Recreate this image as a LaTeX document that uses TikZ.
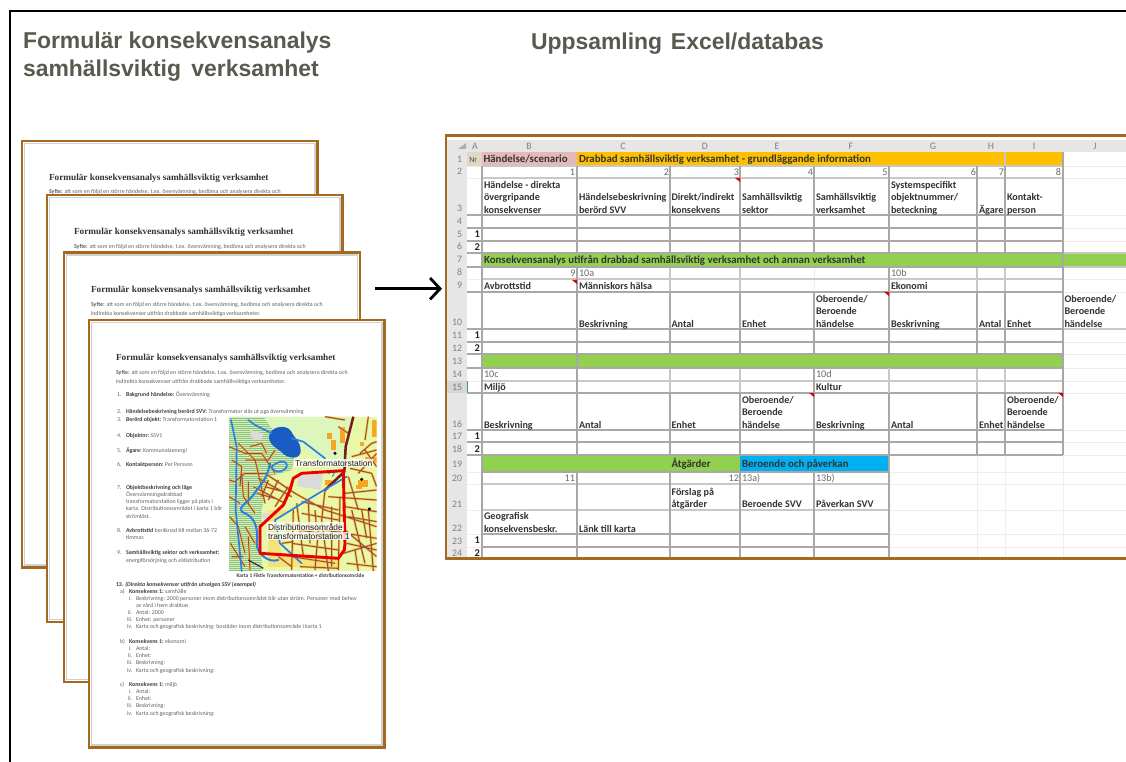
\documentclass[tikz,border=0pt]{standalone}
\usepackage{fontspec}
\setmainfont{Carlito}
\newfontfamily\arialf{Liberation Sans}
\newfontfamily\serifb{Liberation Serif}
\usetikzlibrary{arrows.meta}
\definecolor{brownb}{HTML}{A5681F}
\definecolor{titleg}{HTML}{595950}
\definecolor{hdr}{HTML}{E6E6E6}
\definecolor{grn}{HTML}{92D050}
\definecolor{org}{HTML}{FFC000}
\definecolor{blu}{HTML}{00B0F0}
\definecolor{pnk}{HTML}{E6B8B7}
\definecolor{tanc}{HTML}{DDD9C4}
\definecolor{gridd}{HTML}{A8A8A8}
\definecolor{gridm}{HTML}{C8C8C8}
\definecolor{gridl}{HTML}{EEEEEE}
\definecolor{road}{HTML}{9A4A48}
\definecolor{roady}{HTML}{F4C83A}
\definecolor{rivb}{HTML}{2A80E0}
\definecolor{mapbg}{HTML}{E9F7A8}
\definecolor{mapgr}{HTML}{DCF6BC}
\definecolor{forest}{HTML}{D6ECC2}
\definecolor{foreststr}{HTML}{8CC47A}
\definecolor{mapyl}{HTML}{F4E27A}
\definecolor{mapgrey}{HTML}{DADADA}
\definecolor{maporg}{HTML}{F5A623}
\definecolor{lake}{HTML}{1A5CC4}
\definecolor{mainroad}{HTML}{7A1A1A}
\definecolor{selmark}{HTML}{4C9A6A}
\newcounter{tn}
\tikzset{
  x=0.75pt,y=-0.75pt,
  txt/.style={inner sep=0pt,outer sep=0pt,anchor=base west},
  titletxt/.style={txt,font=\arialf\bfseries\fontsize{17.2pt}{18pt}\selectfont,text=titleg},
  cellh/.style={txt,font=\bfseries\fontsize{8.15pt}{9pt}\selectfont,text=black!80},
  cellb/.style={txt,font=\bfseries\fontsize{7.6pt}{9pt}\selectfont,text=black!80},
  cellg/.style={txt,font=\fontsize{7.6pt}{9pt}\selectfont,text=black!58},
  cellr/.style={inner sep=0pt,outer sep=0pt,anchor=base east,font=\fontsize{7.6pt}{9pt}\selectfont,text=black!58},
  numb/.style={inner sep=0pt,outer sep=0pt,anchor=base east,font=\bfseries\fontsize{7.8pt}{9pt}\selectfont,text=black!85},
  rowh/.style={inner sep=0pt,outer sep=0pt,anchor=base,font=\fontsize{7.4pt}{9pt}\selectfont,text=black!50},
  pagebox/.style={draw=brownb,line width=2.2pt,fill=white},
  pageshade/.style={draw=black!18,line width=0.8pt},
  ptitle/.style={txt,font=\serifb\bfseries\fontsize{6.95pt}{9pt}\selectfont,text=black!80},
  small/.style={txt,font=\fontsize{4.42pt}{5pt}\selectfont,text=black!62},
  smallb/.style={txt,font=\bfseries\fontsize{4.42pt}{5pt}\selectfont,text=black!75},
  capb/.style={txt,font=\bfseries\fontsize{4.02pt}{5pt}\selectfont,text=black!75},
  gd/.style={draw=gridd,line width=1.1pt},
  gm/.style={draw=gridm,line width=0.9pt},
  gl/.style={draw=gridl,line width=0.7pt},
  riv/.style={draw=rivb,line width=1.25pt,line join=round,line cap=round},
  redl/.style={draw=red!92!black,line width=2.2pt,line join=round},
  maplab/.style={inner sep=0.6pt,outer sep=0pt,anchor=base west,fill=white,fill opacity=0.8,text opacity=1,font=\arialf\fontsize{6.3pt}{8pt}\selectfont,text=black!88},
  commentmark/.style={fill=red!90!black,draw=none},
  arrowline/.style={draw=black,line width=2.1pt,-{Straight Barb[length=7.5pt,width=16pt,line width=2.1pt]}},
}
\newcommand{\tx}[4]{\stepcounter{tn}\node[#1] (n\arabic{tn}) at (#2,#3) {#4};}
\newcommand{\lbl}[5]{\stepcounter{tn}\node[smallb] (n\arabic{tn}) at (#2,#3) {#4};\node[small] (m\arabic{tn}) at (n\arabic{tn}.base east) {\ #5};}
\newcommand{\cmk}[2]{\fill[commentmark] (#1,#2) -- ++(-5,0) -- ++(5,4) -- cycle;}
\newcommand{\syfteA}{\textbf{Syfte:} att som en följd en större händelse, t.ex. översvämning, bedöma och analysera direkta och}
\newcommand{\syfteB}{indirekta konsekvenser utifrån drabbade samhällsviktiga verksamheter.}
\newcommand{\ptl}{Formulär konsekvensanalys samhällsviktig verksamhet}
\newcommand{\roadset}[1]{\draw[#1,line join=round]
 (12,210)--(30,215)--(60,190)--(120,190)--(210,250)--(300,300)--(455,350)
 (40,100)--(90,150)--(100,190)--(120,280)
 (12,110)--(60,130)--(110,130)--(150,190)
 (50,190)--(55,260)--(90,310)
 (130,210)--(110,260) (160,210)--(130,270) (190,230)--(150,290) (85,230)--(180,280) (100,205)--(200,260)
 (300,240)--(290,330)--(310,483) (345,260)--(340,480) (250,270)--(255,400) (205,300)--(200,480)
 (180,340)--(455,385) (200,400)--(340,420) (200,440)--(330,460) (280,360)--(270,480)
 (360,250)--(455,240) (380,300)--(420,460) (400,190)--(455,130) (420,120)--(455,170)
 (360,360)--(455,440) (355,430)--(455,400) (390,420)--(400,483) (430,300)--(445,483)
 (14,320)--(40,350)--(60,430) (60,350)--(90,400) (12,260)--(45,280)
 (310,260)--(455,270) (370,200)--(400,300)
 (60,150)--(130,150)--(150,120) (75,110)--(110,100)--(125,130) (20,150)--(50,170)--(45,230)
 (70,215)--(70,285) (95,250)--(150,265) (120,230)--(175,245)
 (215,280)--(235,440) (230,275)--(340,300) (230,310)--(340,330) (225,360)--(340,380) (320,290)--(320,470)
 (270,300)--(275,360) (225,470)--(340,475) (170,400)--(205,395) (160,440)--(200,470)
 (360,290)--(455,305) (370,320)--(455,335) (365,400)--(455,420) (365,460)--(455,470) (410,300)--(425,385)
 (405,130)--(440,100)--(455,95) (430,20)--(420,90) (380,140)--(455,120) (375,175)--(440,190) (440,190)--(455,230)
 (360,30)--(300,20) (370,70)--(340,50)
 (16,400)--(60,470) (20,440)--(55,440) (70,380)--(75,480);}
\begin{document}
\begin{tikzpicture}
\useasboundingbox (0,0) rectangle (1126,762);
\fill[white] (0,0) rectangle (1126,762);
% outer frame
\draw[black,line width=1.6pt] (10,762) -- (10,11) -- (1126,11);
% titles
\tx{titletxt}{23}{48.3}{Formulär konsekvensanalys}
\tx{titletxt}{23}{77}{samhällsviktig\hspace{0.45em}verksamhet}
\tx{titletxt}{531}{50}{Uppsamling\hspace{0.38em}Excel/databas}

% ---- page 1
\draw[pagebox] (22,141) rectangle (317.5,567.5);
\draw[pageshade] (24.5,143.5) rectangle (315,565);
\tx{ptitle}{49}{181}{\ptl}
\tx{small}{49}{194}{\syfteA}
% ---- page 2
\draw[pagebox] (47,195) rectangle (342.5,622);
\draw[pageshade] (49.5,197.5) rectangle (340,619.5);
\tx{ptitle}{74}{235}{\ptl}
\tx{small}{74}{249}{\syfteA}
% ---- page 3
\draw[pagebox] (64,252.5) rectangle (360,682);
\draw[pageshade] (66.5,255) rectangle (357.5,679.5);
\tx{ptitle}{91}{293}{\ptl}
\tx{small}{91}{307}{\syfteA}
\tx{small}{91}{315.5}{\syfteB}
% ---- page 4
\draw[pagebox] (89,320) rectangle (384.5,747.5);
\draw[pageshade] (91.5,322.5) rectangle (382,745);
\tx{ptitle}{116}{360}{\ptl}
\tx{small}{116}{374.5}{\syfteA}
\tx{small}{116}{383}{\syfteB}
% list left
\tx{small}{117}{396}{1.}\lbl{}{126}{396}{Bakgrund händelse:}{Översvämning}
\tx{small}{117}{413}{2.}\lbl{}{126}{413}{Händelsebeskrivning berörd SVV:}{Transformator slås ut pga översvämning}
\tx{small}{117}{421.5}{3.}\lbl{}{126}{421.5}{Berörd objekt:}{Transformatorstation 1}
\tx{small}{117}{437}{4.}\lbl{}{126}{437}{Objektnr:}{SSV1}
\tx{small}{117}{452}{5.}\lbl{}{126}{452}{Ägare:}{Kommunalaenergi}
\tx{small}{117}{466.5}{6.}\lbl{}{126}{466.5}{Kontaktperson:}{Per Persson}
\tx{small}{117}{489}{7.}\tx{smallb}{126}{489}{Objektbeskrivning och läge}
\tx{small}{126}{496.5}{Översvämningsdrabbad}
\tx{small}{126}{503.5}{transformatorstation ligger på plats i}
\tx{small}{126}{510.5}{karta. Distributionsområdet i karta 1 blir}
\tx{small}{126}{518}{strömlöst.}
\tx{small}{117}{532}{8.}\lbl{}{126}{532}{Avbrottstid}{beräknad till mellan 36-72}
\tx{small}{126}{539.5}{timmar.}
\tx{small}{117}{554}{9.}\tx{smallb}{126}{554}{Samhällsviktig sektor och verksamhet:}
\tx{small}{126}{562}{energiförsörjning och eldistribution}
\tx{capb}{236.5}{577}{Karta 1 Fiktiv Transformatorstation + distributionsområde}
\tx{smallb}{116}{586}{13. \itshape (Direkta konsekvenser utifrån utvalgen SSV (exempel)}
\tx{small}{120}{593}{a)}\lbl{}{129}{593}{Konsekvens 1:}{samhälle}
\tx{small}{129}{600}{i.}\tx{small}{136}{600}{Beskrivning: 2000 personer inom distributionsområdet blir utan ström. Personer med behov}
\tx{small}{136}{607.5}{av vård i hem drabbas}
\tx{small}{128}{614.5}{ii.}\tx{small}{136}{614.5}{Antal: 2000}
\tx{small}{127}{621.5}{iii.}\tx{small}{136}{621.5}{Enhet: personer}
\tx{small}{127}{628.5}{iv.}\tx{small}{136}{628.5}{Karta och geografisk beskrivning: bostäder inom distributionsområde i karta 1}
\tx{small}{120}{643}{b)}\lbl{}{129}{643}{Konsekvens 1:}{ekonomi}
\tx{small}{129}{650}{i.}\tx{small}{136}{650}{Antal:}
\tx{small}{128}{657}{ii.}\tx{small}{136}{657}{Enhet:}
\tx{small}{127}{664.5}{iii.}\tx{small}{136}{664.5}{Beskrivning:}
\tx{small}{127}{672}{iv.}\tx{small}{136}{672}{Karta och geografisk beskrivning:}
\tx{small}{120}{686}{c)}\lbl{}{129}{686}{Konsekvens 1:}{miljö}
\tx{small}{129}{693.5}{i.}\tx{small}{136}{693.5}{Antal:}
\tx{small}{128}{700.5}{ii.}\tx{small}{136}{700.5}{Enhet:}
\tx{small}{127}{707.5}{iii.}\tx{small}{136}{707.5}{Beskrivning:}
\tx{small}{127}{715}{iv.}\tx{small}{136}{715}{Karta och geografisk beskrivning:}

% ---- map (coordinates: 3x crop)
\begin{scope}[shift={(225,410)},x=0.25pt,y=-0.25pt]
\clip (12,20) rectangle (455,483);
\fill[mapbg] (12,20) rectangle (455,483);
\fill[mapgr] (115,20) -- (385,20) -- (360,170) -- (290,160) -- (200,95) -- (130,60) -- cycle;
\fill[forest] (12,20) -- (115,20) -- (150,70) -- (210,130) -- (200,180) -- (130,200) -- (110,300) -- (110,483) -- (12,483) -- cycle;
\begin{scope}
\clip (12,20) -- (115,20) -- (150,70) -- (210,130) -- (200,180) -- (130,200) -- (110,300) -- (110,483) -- (12,483) -- cycle;
\foreach \yy in {24,30,...,483} {\draw[foreststr,line width=0.5pt] (12,\yy) -- (220,\yy);}
\end{scope}
\fill[mapyl] (130,300) rectangle (340,470);
\fill[mapbg] (150,330) -- (260,270) -- (340,290) -- (340,440) -- (170,430) -- cycle;
\fill[mapgrey] (222,198) -- (295,190) -- (285,240) -- (215,228) -- cycle;
\fill[mapgrey] (75,60) -- (115,70) -- (110,90) -- (80,85) -- cycle;
\fill[mapgrey] (112,310) -- (135,310) -- (128,330) -- (112,325) -- cycle;
\foreach \a/\b/\c/\d in {306/70/322/88,318/90/332/120,400/210/428/232,392/225/410/238,405/95/418/108,440/30/455/80,420/140/455/160,345/50/360/100,300/210/320/225}
  {\fill[maporg] (\a,\b) rectangle (\c,\d);}
\roadset{draw=roady,line width=1.7pt}
\roadset{draw=road,line width=0.75pt}
% main road
\draw[mainroad,line width=1.9pt,line join=round] (385,20) -- (362,110) -- (358,185) -- (300,240);
% lake and rivers
\fill[lake] (133,75) .. controls (138,50) and (182,42) .. (197,62) .. controls (205,82) and (228,92) .. (227,125) .. controls (224,150) and (188,148) .. (168,125) .. controls (148,110) and (128,100) .. (133,75) -- cycle;
\draw[riv] (18,30) -- (35,110) -- (32,300) -- (42,400) -- (50,483);
\draw[riv] (70,30) -- (90,45) -- (140,70) (200,85) -- (235,95) -- (300,145);
\draw[riv,line width=1.5pt] (135,160) .. controls (125,215) and (100,230) .. (85,255) .. controls (60,285) and (40,290) .. (50,305) .. controls (90,320) and (100,350) .. (95,400) .. controls (95,430) and (130,460) .. (160,450);
\draw[riv] (365,200) -- (280,250) -- (150,330) -- (165,400) -- (230,460);
\draw[riv] (140,170) .. controls (160,150) and (190,150) .. (185,170) .. controls (175,190) and (145,190) .. (140,170);
\draw[cyan!70!green,line width=0.8pt] (308,190) -- (330,185) -- (322,200);
\draw[black!80,line width=0.9pt] (70,450) -- (115,475);
\fill[black] (330,130) circle (5) (410,208) circle (5) (433,297) circle (5);
% red district
\draw[redl] (355,182) -- (230,190) -- (205,205) -- (195,240) -- (175,285) -- (105,350) -- (105,430) -- (340,445) -- (358,420) -- (360,400) -- (358,320) -- cycle;
\tx{maplab}{208}{168}{Transformatorstation}
\tx{maplab}{127}{360}{Distributionsområde}
\tx{maplab}{127}{388}{transformatorstation 1}
\end{scope}

% ---- spreadsheet
\begin{scope}
\fill[white] (446,136) rectangle (1126,558);
% faint grid first
\foreach \yy in {166,178,215,228,241,253,267,279,292,329,342,354,368,381,393,430,442,455,472,484,510,534,547}
  {\draw[gl] (467,\yy) -- (1126,\yy);}
\foreach \xx in {482,577,670,740,814,889,977,1005,1063}
  {\draw[gl] (\xx,152) -- (\xx,558);}
% fills
\fill[hdr] (446,140) rectangle (1126,152);
\fill[hdr] (446,152) rectangle (467,558);
\fill[black!16] (446,381) rectangle (467,393);
\fill[selmark] (466.5,381) rectangle (468,393);
\fill[black!32] (458,149) -- (466,149) -- (466,143) -- cycle;
\fill[tanc] (467,152) rectangle (482,166);
\fill[pnk] (482,152) rectangle (577,166);
\fill[org] (577,152) rectangle (1063,166);
\fill[grn] (482,253) rectangle (1126,267);
\fill[grn] (482,354) rectangle (1063,368);
\fill[grn] (482,455) rectangle (740,472);
\fill[blu] (740,455) rectangle (889,472);
% mid lines
\foreach \yy in {166,178,279,381,484,510}{\draw[gm] (482,\yy) -- (\ifnum\yy<400 1063\else 889\fi,\yy);}
\foreach \xx in {670,740,977,1005}{\draw[gm] (\xx,267) -- (\xx,292) (\xx,368) -- (\xx,393);}
\draw[gm] (1005,152) -- (1005,166);
% dark horizontal
\foreach \yy in {215,228,241,253,267,292,329,342,354,368,393,430,442,455}{\draw[gd] (467,\yy) -- (1063,\yy);}
\foreach \yy in {534,547}{\draw[gd] (482,\yy) -- (889,\yy);}
\draw[gd] (482,472) -- (889,472);
\draw[gm] (1063,267) -- (1126,267) (1063,329) -- (1126,329) (1063,253) -- (1126,253);
% dark vertical
\draw[gd] (482,166) -- (482,558);
\draw[gd] (577,166) -- (577,253) (577,267) -- (577,455) (577,472) -- (577,558);
\foreach \xx in {670,740,814}{\draw[gd] (\xx,166) -- (\xx,253) (\xx,292) -- (\xx,354) (\xx,393) -- (\xx,455) (\xx,472) -- (\xx,558);}
\draw[gd] (814,368) -- (814,393);
\draw[gd] (889,166) -- (889,253) (889,267) -- (889,354) (889,393) -- (889,558);
\draw[gm] (889,368) -- (889,393);
\foreach \xx in {977,1005}{\draw[gd] (\xx,166) -- (\xx,253) (\xx,292) -- (\xx,354) (\xx,393) -- (\xx,455);}
\draw[gd] (1063,152) -- (1063,455);
\cmk{740}{178}\cmk{577}{280}\cmk{889}{292}\cmk{814}{393}\cmk{1063}{393}
% column letters
\foreach \xx/\ll in {475/A,529/B,623/C,705/D,777/E,851/F,933/G,991/H,1034/I,1095/J}{\node[rowh] (col\ll) at (\xx,149.5) {\ll};}
% row numbers
\foreach \nn/\yy in {1/162.5,2/175,3/212,4/225,5/238,6/250,7/263,8/276,9/289,10/326,11/339,12/351,13/364,14/377,15/390,16/427,17/439,18/452,19/467,20/481,21/507,22/531,23/544,24/556}
 {\node[rowh,anchor=base east] (r\nn) at (462,\yy) {\nn};}
% row 1
\node[inner sep=0pt,anchor=base west,font=\fontsize{6pt}{7pt}\selectfont,text=black!70] (nr) at (469,162.5) {Nr};
\tx{cellh}{483.5}{163}{Händelse/scenario}
\tx{cellh}{579}{163}{Drabbad samhällsviktig verksamhet - grundläggande information}
% row 2
\foreach \xx/\nn in {575/1,669/2,739/3,813/4,887.5/5,976/6,1004/7,1061/8}{\tx{cellr}{\xx}{175.5}{\nn}}
% row 3
\tx{cellb}{484}{188.5}{Händelse - direkta}
\tx{cellb}{484}{201}{övergripande}
\tx{cellb}{484}{213.5}{konsekvenser}
\tx{cellb}{579}{201}{Händelsebeskrivning}
\tx{cellb}{579}{213.5}{berörd SVV}
\tx{cellb}{671.5}{201}{Direkt/indirekt}
\tx{cellb}{671.5}{213.5}{konsekvens}
\tx{cellb}{742}{201}{Samhällsviktig}
\tx{cellb}{742}{213.5}{sektor}
\tx{cellb}{816}{201}{Samhällsviktig}
\tx{cellb}{816}{213.5}{verksamhet}
\tx{cellb}{891}{188.5}{Systemspecifikt}
\tx{cellb}{891}{201}{objektnummer/}
\tx{cellb}{891}{213.5}{beteckning}
\tx{cellb}{979}{213.5}{Ägare}
\tx{cellb}{1007}{201}{Kontakt-}
\tx{cellb}{1007}{213.5}{person}
% numbers column A
\foreach \yy/\nn in {238/1,250.5/2,339/1,351.5/2,439.5/1,452/2,543.5/1,556/2}{\node[numb] at (480,\yy) (a\nn\yy) {\nn};}
% row 7
\tx{cellh}{484}{264}{Konsekvensanalys utifrån drabbad samhällsviktig verksamhet och annan verksamhet}
% row 8, 9
\tx{cellr}{575.5}{276.5}{9}
\tx{cellg}{579}{276.5}{10a}
\tx{cellg}{891}{276.5}{10b}
\tx{cellb}{484}{289.5}{Avbrottstid}
\tx{cellb}{579}{289.5}{Människors hälsa}
\tx{cellb}{891}{289.5}{Ekonomi}
% row 10
\tx{cellb}{579}{327.5}{Beskrivning}
\tx{cellb}{671.5}{327.5}{Antal}
\tx{cellb}{742}{327.5}{Enhet}
\tx{cellb}{816}{302.5}{Oberoende/}
\tx{cellb}{816}{315}{Beroende}
\tx{cellb}{816}{327.5}{händelse}
\tx{cellb}{891}{327.5}{Beskrivning}
\tx{cellb}{979}{327.5}{Antal}
\tx{cellb}{1007}{327.5}{Enhet}
\tx{cellb}{1064.5}{302.5}{Oberoende/}
\tx{cellb}{1064.5}{315}{Beroende}
\tx{cellb}{1064.5}{327.5}{händelse}
% row 14, 15
\tx{cellg}{484}{377.5}{10c}
\tx{cellg}{816}{377.5}{10d}
\tx{cellb}{484}{390.5}{Miljö}
\tx{cellb}{816}{390.5}{Kultur}
% row 16
\tx{cellb}{484}{428}{Beskrivning}
\tx{cellb}{579}{428}{Antal}
\tx{cellb}{671.5}{428}{Enhet}
\tx{cellb}{742}{403}{Oberoende/}
\tx{cellb}{742}{415.5}{Beroende}
\tx{cellb}{742}{428}{händelse}
\tx{cellb}{816}{428}{Beskrivning}
\tx{cellb}{891}{428}{Antal}
\tx{cellb}{979}{428}{Enhet}
\tx{cellb}{1007}{403}{Oberoende/}
\tx{cellb}{1007}{415.5}{Beroende}
\tx{cellb}{1007}{428}{händelse}
% row 19
\tx{cellh}{671.5}{467.5}{Åtgärder}
\tx{cellh}{742}{467.5}{Beroende och påverkan}
% row 20
\tx{cellr}{575}{481.5}{11}
\tx{cellr}{739}{481.5}{12}
\tx{cellg}{742}{481.5}{13a)}
\tx{cellg}{816}{481.5}{13b)}
% row 21
\tx{cellb}{671.5}{495}{Förslag på}
\tx{cellb}{671.5}{507.5}{åtgärder}
\tx{cellb}{742}{507.5}{Beroende SVV}
\tx{cellb}{816}{507.5}{Påverkan SVV}
% row 22
\tx{cellb}{484}{519.5}{Geografisk}
\tx{cellb}{484}{532}{konsekvensbeskr.}
\tx{cellb}{579}{532}{Länk till karta}
% frame
\draw[brownb,line width=2.1pt] (1126,135.5) -- (446,135.5) -- (446,558.5) -- (1126,558.5);
\end{scope}
% arrow
\coordinate (arrowS) at (375,288.7);
\coordinate (arrowE) at (442,288.7);
\draw[arrowline] (arrowS) -- (arrowE);
\end{tikzpicture}
\end{document}
